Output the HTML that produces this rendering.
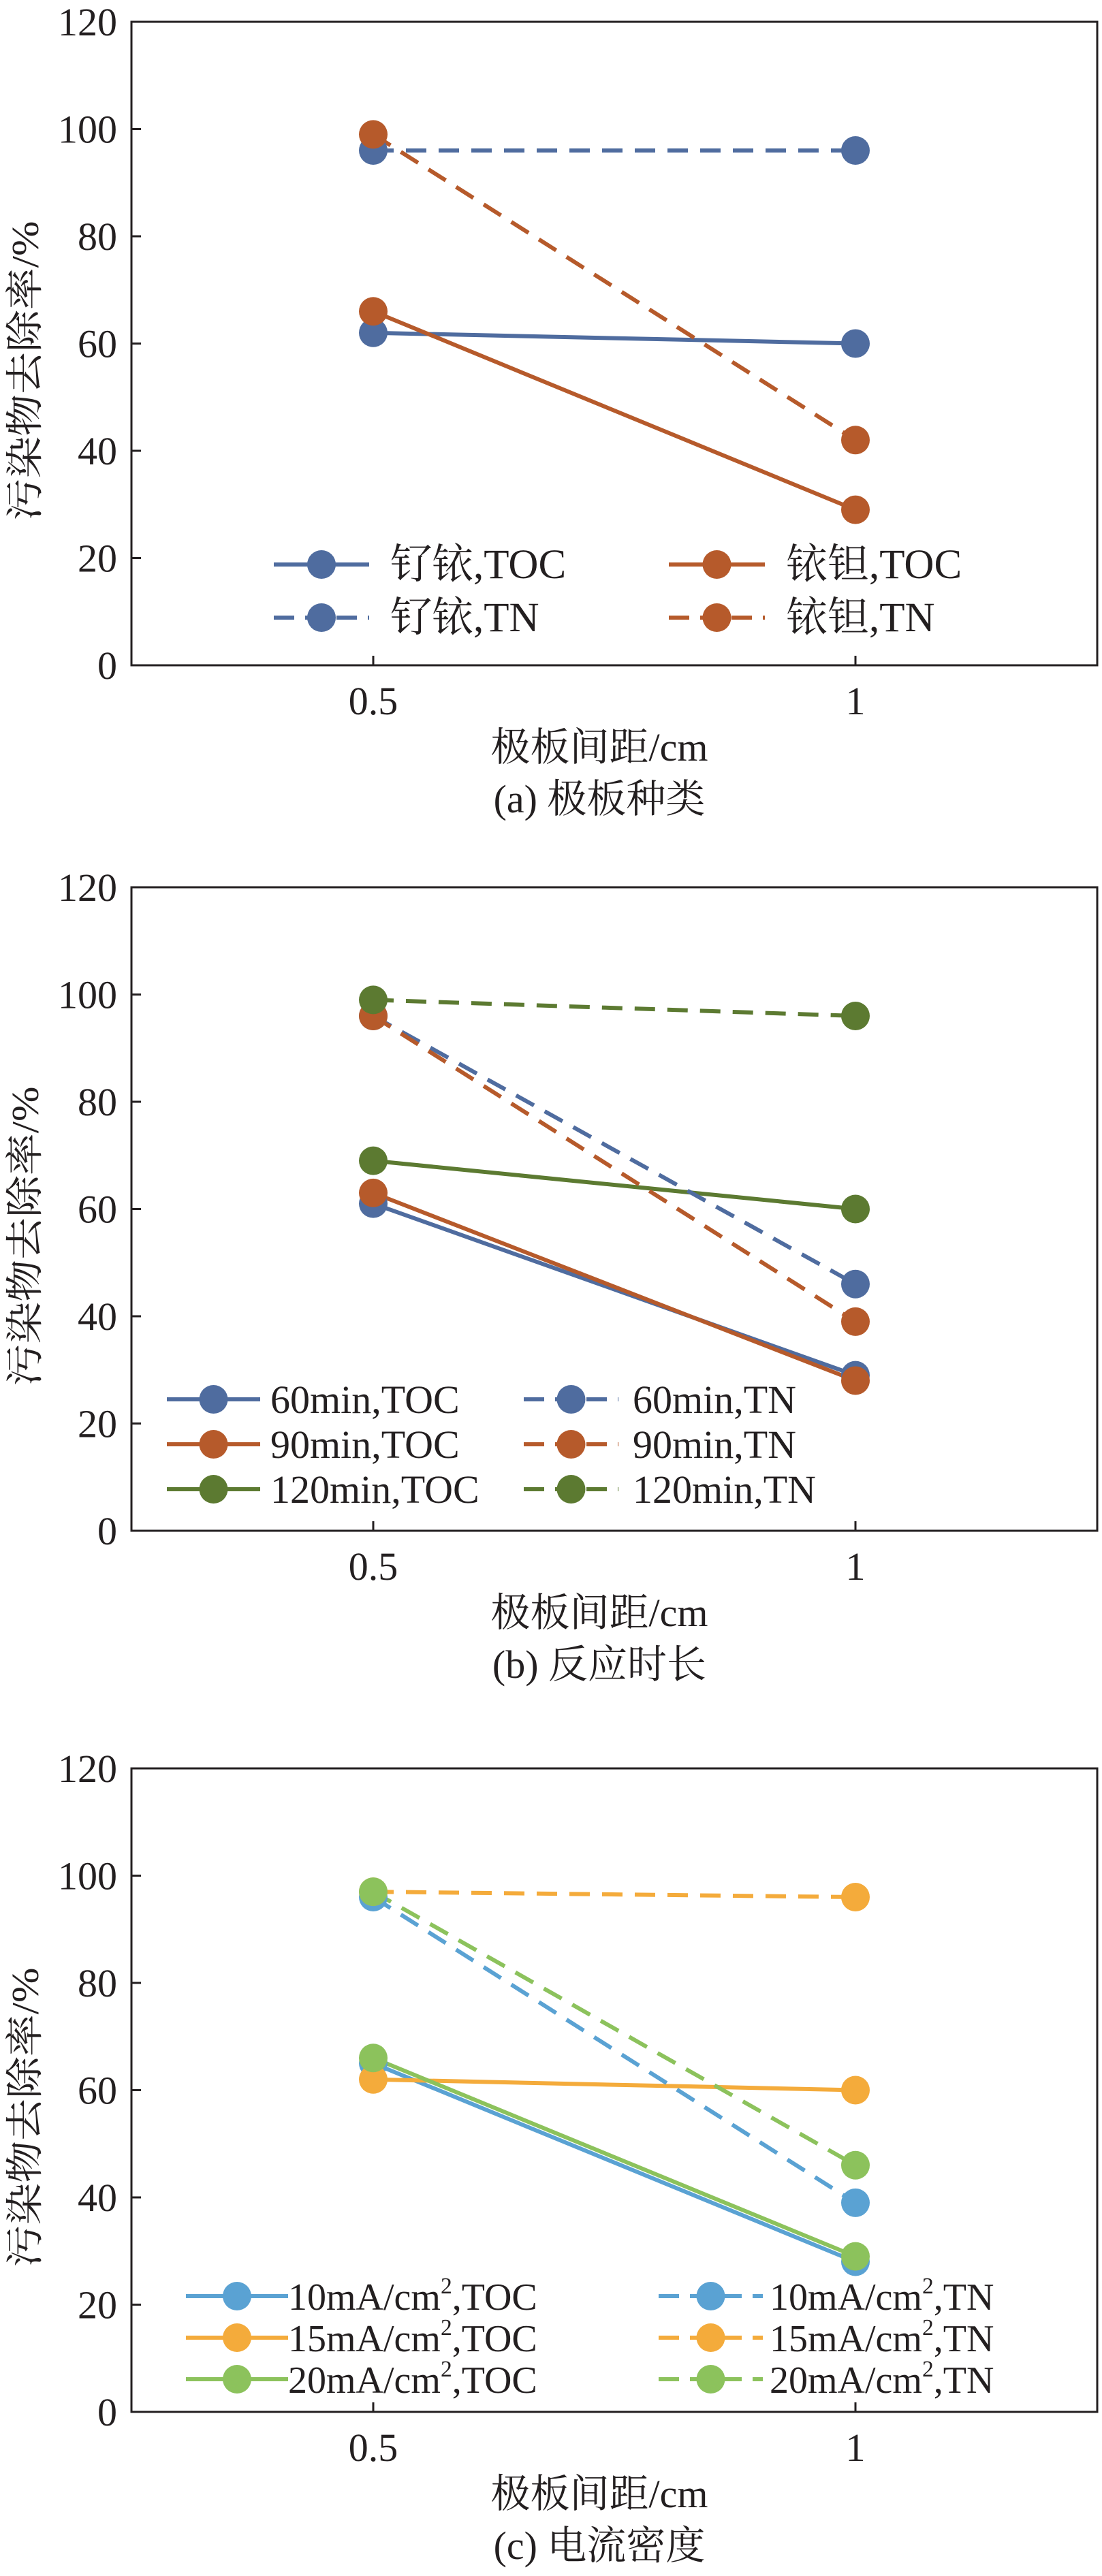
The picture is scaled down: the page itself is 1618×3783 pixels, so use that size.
<!DOCTYPE html>
<html><head><meta charset="utf-8">
<style>
html,body{margin:0;padding:0;background:#fff;}
svg{display:block;}
text{font-family:"Liberation Serif","Noto Serif CJK SC","Noto Sans CJK SC",serif;fill:#231f20;}
</style></head>
<body>
<svg id="fig" width="1618" height="3783" viewBox="0 0 1618 3783" xmlns="http://www.w3.org/2000/svg"></svg>
<script>
// Shared axis data
const xCategories = [0.5, 1];
const xTickLabels = ["0.5", "1"];
const yTicks = [0, 20, 40, 60, 80, 100, 120];

// Panel (a) data
const aNames = ["钌铱,TOC", "铱钽,TOC", "钌铱,TN", "铱钽,TN"];
const aRuIrTOC = [62, 60];
const aIrTaTOC = [66, 29];
const aRuIrTN = [96, 96];
const aIrTaTN = [99, 42];

// Panel (b) data
const b60TOC = [61, 29];
const b90TOC = [63, 28];
const b120TOC = [69, 60];
const b60TN = [96, 46];
const b90TN = [96, 39];
const b120TN = [99, 96];

// Panel (c) data
const c10TOC = [65, 28];
const c15TOC = [62, 60];
const c20TOC = [66, 29];
const c10TN = [96, 39];
const c15TN = [97, 96];
const c20TN = [97, 46];

const NS = "http://www.w3.org/2000/svg";
const svg = document.getElementById("fig");
function mk(tag, attrs, parent) {
  const e = document.createElementNS(NS, tag);
  for (const k in attrs) e.setAttribute(k, attrs[k]);
  (parent || svg).appendChild(e);
  return e;
}

const BLUE = "#4f6c9f", ORANGE = "#b65a2b", GREEN = "#5c7a31";
const LBLUE = "#5aa2d3", LORANGE = "#f4ab3b", LGREEN = "#8cc25c";
const MR = 21;

function drawPanel(p) {
  const g = mk("g", {});
  
  
  const L = 193, R = 1611, T = p.top, B = p.top + 945;
  const x0 = 548, x1 = 1256;
  const xs = v => x0 + (v - 0.5) / 0.5 * (x1 - x0);
  const ys = v => B - v / 120 * (B - T);

  p.series.forEach(s => {
    const sg = mk("g", {}, g);
    
    
    const pts = s.data.map((v, i) => xs(xCategories[i]) + "," + ys(v)).join(" ");
    const pl = mk("polyline", {points: pts, fill: "none", stroke: s.color, "stroke-width": 6,
      "stroke-dasharray": s.dash ? "30,18" : "none"}, sg);
    
    
  });
  p.series.forEach(s => {
    s.data.forEach((v, i) => {
      const c = mk("circle", {cx: xs(xCategories[i]), cy: ys(v), r: MR, fill: s.color}, g);
      
      
    });
  });

  const fr = mk("rect", {x: L, y: T, width: R - L, height: B - T, fill: "none", stroke: "#231f20", "stroke-width": 3}, g);
  
  

  yTicks.forEach(t => {
    const y = ys(t);
    const tl = mk("line", {x1: L, x2: L + 14, y1: y, y2: y, stroke: "#231f20", "stroke-width": 3}, g);
    
    
    const tx = mk("text", {x: 172, y: y + 20, "text-anchor": "end", "font-size": 58}, g);
    tx.textContent = t;
    
    
  });
  xCategories.forEach((c, i) => {
    const x = xs(c);
    const tl = mk("line", {x1: x, x2: x, y1: B, y2: B - 14, stroke: "#231f20", "stroke-width": 3}, g);
    
    
    const tx = mk("text", {x: x, y: B + 72, "text-anchor": "middle", "font-size": 58}, g);
    tx.textContent = xTickLabels[i];
    
    
  });

  const xt = mk("text", {x: 880, y: B + 140, "text-anchor": "middle", "font-size": 58}, g);
  xt.textContent = "极板间距/cm";
  
  
  const cap = mk("text", {x: 880, y: B + 216, "text-anchor": "middle", "font-size": 58}, g);
  cap.textContent = p.caption;
  
  
  const cy = (T + B) / 2 + 40;
  const yt = mk("text", {x: 0, y: 0, "text-anchor": "middle", "font-size": 56,
    textLength: 440, lengthAdjust: "spacingAndGlyphs",
    transform: "translate(56," + cy + ") rotate(-90)"}, g);
  yt.textContent = "污染物去除率/%";
  
  

  const lg = mk("g", {}, g);
  
  
  p.legend.forEach(e => {
    const s = e.s;
    const eg = mk("g", {}, lg);
    
    
    mk("line", {x1: e.lx1, x2: e.lx2, y1: e.y, y2: e.y, stroke: s.color, "stroke-width": 6,
      "stroke-dasharray": s.dash ? "30,16" : "none"}, eg);
    mk("circle", {cx: (e.lx1 + e.lx2) / 2, cy: e.y, r: MR, fill: s.color}, eg);
    const t = mk("text", {x: e.tx, y: e.y + 20, "font-size": p.lfs}, eg);
    if (e.sup) {
      const a = mk("tspan", {}, t); a.textContent = e.label[0];
      const b = mk("tspan", {dy: -24, "font-size": p.lfs * 0.6}, t); b.textContent = "2";
      const c = mk("tspan", {dy: 24}, t); c.textContent = e.label[1];
    } else t.textContent = e.label;
  });
}

(function () {
  const s = [
    {name: "ruir-toc", data: aRuIrTOC, color: BLUE, dash: false},
    {name: "irta-toc", data: aIrTaTOC, color: ORANGE, dash: false},
    {name: "ruir-tn", data: aRuIrTN, color: BLUE, dash: true},
    {name: "irta-tn", data: aIrTaTN, color: ORANGE, dash: true}
  ];
  drawPanel({id: "panel-a", top: 32, caption: "(a) 极板种类", series: s, lfs: 61,
    legend: [
      {s: s[0], label: aNames[0], lx1: 402, lx2: 542, tx: 573, y: 829},
      {s: s[2], label: aNames[2], lx1: 402, lx2: 542, tx: 573, y: 907},
      {s: s[1], label: aNames[1], lx1: 982, lx2: 1123, tx: 1154, y: 829},
      {s: s[3], label: aNames[3], lx1: 982, lx2: 1123, tx: 1154, y: 907}
    ]});
})();

(function () {
  const s = [
    {name: "60min-toc", data: b60TOC, color: BLUE, dash: false},
    {name: "90min-toc", data: b90TOC, color: ORANGE, dash: false},
    {name: "120min-toc", data: b120TOC, color: GREEN, dash: false},
    {name: "60min-tn", data: b60TN, color: BLUE, dash: true},
    {name: "90min-tn", data: b90TN, color: ORANGE, dash: true},
    {name: "120min-tn", data: b120TN, color: GREEN, dash: true}
  ];
  const rows = [2055, 2121, 2187];
  const lab = ["60min,TOC", "90min,TOC", "120min,TOC", "60min,TN", "90min,TN", "120min,TN"];
  const leg = [];
  for (let i = 0; i < 3; i++) leg.push({s: s[i], label: lab[i], lx1: 245, lx2: 382, tx: 397, y: rows[i]});
  for (let i = 0; i < 3; i++) leg.push({s: s[i + 3], label: lab[i + 3], lx1: 769, lx2: 908, tx: 929, y: rows[i]});
  drawPanel({id: "panel-b", top: 1303, caption: "(b) 反应时长", series: s, lfs: 58, legend: leg});
})();

(function () {
  const s = [
    {name: "10ma-toc", data: c10TOC, color: LBLUE, dash: false},
    {name: "15ma-toc", data: c15TOC, color: LORANGE, dash: false},
    {name: "20ma-toc", data: c20TOC, color: LGREEN, dash: false},
    {name: "10ma-tn", data: c10TN, color: LBLUE, dash: true},
    {name: "15ma-tn", data: c15TN, color: LORANGE, dash: true},
    {name: "20ma-tn", data: c20TN, color: LGREEN, dash: true}
  ];
  const rows = [3372, 3433, 3494];
  const pre = ["10mA/cm", "15mA/cm", "20mA/cm"];
  const leg = [];
  for (let i = 0; i < 3; i++) leg.push({s: s[i], label: [pre[i], ",TOC"], sup: true, lx1: 273, lx2: 423, tx: 423, y: rows[i]});
  for (let i = 0; i < 3; i++) leg.push({s: s[i + 3], label: [pre[i], ",TN"], sup: true, lx1: 967, lx2: 1120, tx: 1130, y: rows[i]});
  drawPanel({id: "panel-c", top: 2597, caption: "(c) 电流密度", series: s, lfs: 56, legend: leg});
})();
</script>
</body></html>
